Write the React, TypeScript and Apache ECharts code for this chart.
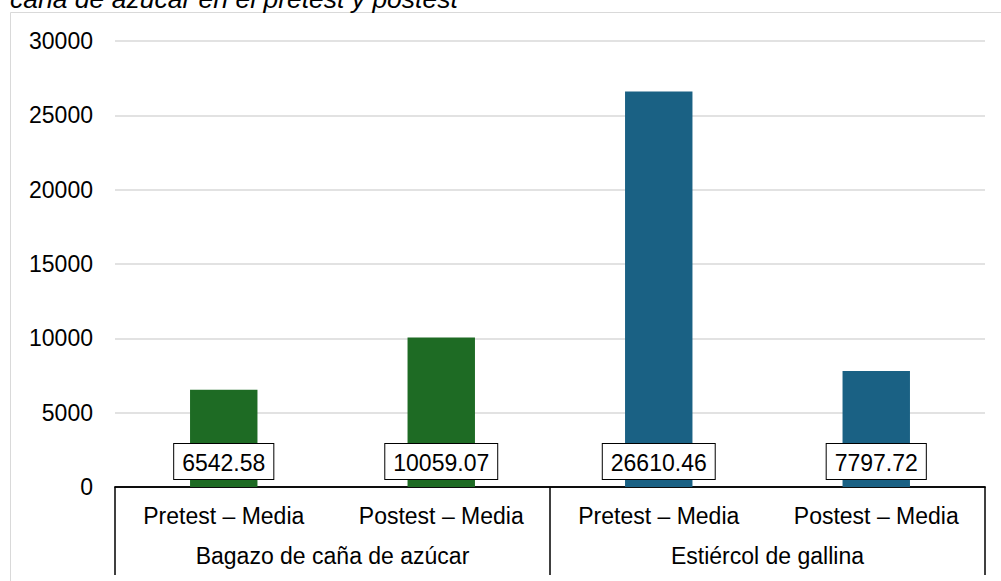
import React, { useEffect, useRef } from "react";
import * as echarts from "echarts";

const titleText = "caña de azúcar en el pretest y postest";
const categories = ["Pretest – Media", "Postest – Media", "Pretest – Media", "Postest – Media"];
const groups = ["Bagazo de caña de azúcar", "Estiércol de gallina"];
const values = [6542.58, 10059.07, 26610.46, 7797.72];
const barColors = ["#1e6b24", "#1e6b24", "#1a6184", "#1a6184"];
const yTicks = { min: 0, max: 30000, interval: 5000 };

const FONT = "Arial, 'Liberation Sans', sans-serif";

export default function App() {
  const ref = useRef<HTMLDivElement>(null);
  useEffect(() => {
    if (!ref.current) return;
    const chart = echarts.init(ref.current, null, { renderer: "svg" });
    chart.setOption({
      animation: false,
      backgroundColor: "#ffffff",
      textStyle: { fontFamily: FONT },
      graphic: [
        {
          type: "rect",
          z: -10,
          shape: { x: 10.5, y: 12.5, width: 1000, height: 600 },
          style: { fill: "none", stroke: "#d9d9d9", lineWidth: 1 },
        },
        {
          type: "text",
          x: 10,
          y: 12,
          style: {
            text: titleText,
            font: `italic 26.5px ${FONT}`,
            fill: "#000000",
            verticalAlign: "bottom",
          },
        },
      ],
      grid: { left: 115, right: 16, top: 41, bottom: 94, containLabel: false },
      xAxis: [
        {
          type: "category",
          data: categories,
          position: "bottom",
          axisLine: { show: true, lineStyle: { color: "#000000", width: 1.5 } },
          axisTick: { show: false },
          axisLabel: { color: "#000000", fontSize: 23, margin: 17, interval: 0, fontFamily: FONT },
        },
        {
          type: "category",
          data: groups,
          position: "bottom",
          axisLine: { show: true, lineStyle: { color: "#000000", width: 1.5 } },
          axisTick: { show: true, length: 88, interval: 0, lineStyle: { color: "#000000", width: 1.5 } },
          axisLabel: { color: "#000000", fontSize: 23, margin: 57, interval: 0, fontFamily: FONT },
        },
      ],
      yAxis: {
        type: "value",
        min: yTicks.min,
        max: yTicks.max,
        interval: yTicks.interval,
        axisLine: { show: false },
        axisTick: { show: false },
        axisLabel: {
          color: "#000000",
          fontSize: 23,
          margin: 22,
          fontFamily: FONT,
          formatter: (v: number) => String(v),
        },
        splitLine: { lineStyle: { color: "#d9d9d9", width: 1.5 } },
      },
      series: [
        {
          type: "bar",
          xAxisIndex: 0,
          barWidth: "31%",
          data: values.map((v, i) => ({ value: v, itemStyle: { color: barColors[i] } })),
          label: {
            show: true,
            position: "insideBottom",
            distance: 8,
            formatter: (p: any) => values[p.dataIndex].toFixed(2),
            color: "#000000",
            fontSize: 23,
            fontFamily: FONT,
            backgroundColor: "#ffffff",
            borderColor: "#000000",
            borderWidth: 1,
            padding: [6, 8, 3, 8],
            lineHeight: 26,
          },
        },
      ],
    });
    return () => chart.dispose();
  }, []);
  return (
    <div
      ref={ref}
      style={{ position: "fixed", left: 0, top: 0, width: 1001, height: 581 }}
    />
  );
}
